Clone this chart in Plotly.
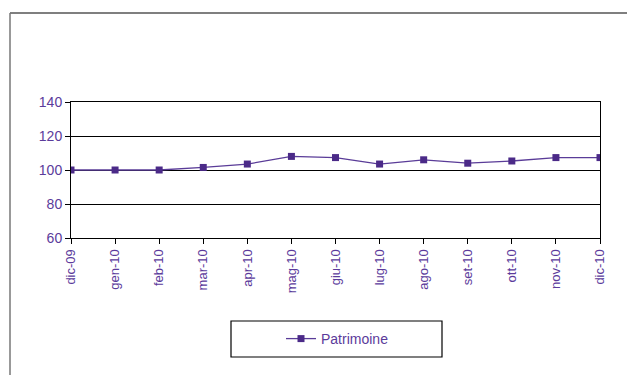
import plotly.graph_objects as go

# Data
months = ["dic-09", "gen-10", "feb-10", "mar-10", "apr-10", "mag-10", "giu-10",
          "lug-10", "ago-10", "set-10", "ott-10", "nov-10", "dic-10"]
patrimoine = [100, 100, 100, 101.5, 103.5, 108, 107.3, 103.5, 106, 104, 105.3, 107.3, 107.3]

purple = "#4b2a88"
text_purple = "#5b3b9b"

# page body has an 8px margin, so the figure is drawn offset by 8px
OFF = 8
W, H = 635 - 2 * OFF, 383 - 2 * OFF
L, T = 71 - OFF, 102 - OFF
R, B = W - (600 - OFF), H - (238 - OFF)
pw, ph = W - L - R, H - T - B


def px(x):
    return (x - OFF - L) / pw


def py(y):
    return (H - B - (y - OFF)) / ph


fig = go.Figure()
fig.add_trace(go.Scatter(
    x=months, y=patrimoine, name="Patrimoine", mode="lines+markers",
    line=dict(color="#5a3c98", width=1.3),
    marker=dict(symbol="square", size=7, color=purple),
))

# outer frame (top and left edges) and legend box
fig.add_shape(type="line", xref="paper", yref="paper", x0=px(10), x1=px(640), y0=py(13), y1=py(13),
              line=dict(color="#555555", width=1.5))
fig.add_shape(type="line", xref="paper", yref="paper", x0=px(10), x1=px(10), y0=py(13), y1=py(390),
              line=dict(color="#777777", width=1.5))
fig.add_shape(type="rect", xref="paper", yref="paper", x0=px(231), x1=px(442), y0=py(321), y1=py(357),
              line=dict(color="black", width=1.2))

fig.update_layout(
    width=W, height=H,
    margin=dict(l=L, r=R, t=T, b=B),
    paper_bgcolor="white", plot_bgcolor="white",
    font=dict(family="Liberation Sans, Arial", size=13, color=text_purple),
    showlegend=True,
    legend=dict(x=px(281), y=py(339), xanchor="left", yanchor="middle",
                bgcolor="rgba(0,0,0,0)", font=dict(size=14, color=text_purple)),
)
fig.update_xaxes(
    type="category", range=[0, len(months) - 1], tickangle=-90,
    showline=True, mirror=True, linecolor="black", linewidth=1,
    ticks="outside", ticklen=5, tickcolor="black",
    showgrid=False, tickfont=dict(size=13, color=text_purple),
)
fig.update_yaxes(
    range=[60, 140], tickvals=[60, 80, 100, 120, 140],
    showline=True, mirror=True, linecolor="black", linewidth=1,
    ticks="outside", ticklen=5, tickcolor="black",
    showgrid=True, gridcolor="black", gridwidth=1, zeroline=False,
    tickfont=dict(size=14, color=text_purple),
)

fig.write_html("out.html")
